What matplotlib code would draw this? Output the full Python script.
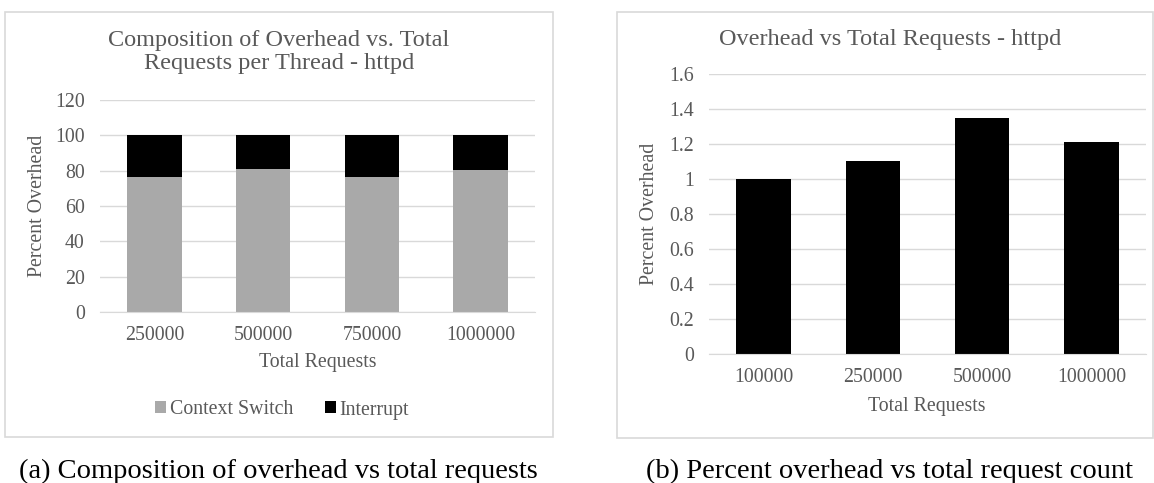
import numpy as np
import matplotlib.pyplot as plt
from matplotlib.patches import Rectangle

# data
comp_labels = ['250000', '500000', '750000', '1000000']
context_switch = [76.5, 81.1, 76.5, 80.1]
interrupt = [100 - v for v in context_switch]

total_labels = ['100000', '250000', '500000', '1000000']
pct_overhead = [1.0, 1.1, 1.349, 1.214]

W, H = 1154, 483
plt.rcParams['font.family'] = ['Liberation Serif', 'DejaVu Serif']
txt = '#595959'
grid = '#d9d9d9'

fig = plt.figure(figsize=(W / 100, H / 100), dpi=100)


def fx(x):
    return x / W


def fy(y):
    return 1 - y / H


def style(ax, ticks):
    ax.set_yticks(ticks)
    ax.grid(axis='y', color=grid, linewidth=1)
    ax.set_axisbelow(True)
    for s in ['top', 'right', 'left']:
        ax.spines[s].set_visible(False)
    ax.spines['bottom'].set_color(grid)
    ax.tick_params(axis='both', length=0, labelsize=14.3, colors=txt)
    ax.tick_params(axis='y', pad=11)
    ax.tick_params(axis='x', pad=10)


# panel borders
fig.patches.append(Rectangle((fx(5), fy(437)), fx(548), 425 / H, transform=fig.transFigure,
                             fill=False, edgecolor=grid, linewidth=1.2))
fig.patches.append(Rectangle((fx(617), fy(438)), fx(536), 426 / H, transform=fig.transFigure,
                             fill=False, edgecolor=grid, linewidth=1.2))

# (a) stacked composition
ax1 = fig.add_axes([fx(100), fy(312), fx(435), 212 / H])
x1 = np.arange(len(comp_labels))
ax1.bar(x1, context_switch, width=0.5, color='#a9a9a9', label='Context Switch')
ax1.bar(x1, interrupt, width=0.5, bottom=context_switch, color='black', label='Interrupt')
ax1.set_xlim(-0.5, 3.5)
ax1.set_ylim(0, 120)
ax1.set_xticks(x1)
ax1.set_xticklabels(comp_labels)
style(ax1, np.arange(0, 121, 20))
fig.text(fx(279), fy(52), 'Composition of Overhead vs. Total\nRequests per Thread - httpd',
         ha='center', va='center', fontsize=17.5, color=txt, linespacing=1.18)
fig.text(fx(38), fy(206), 'Percent Overhead', rotation=90, ha='center', va='center',
         fontsize=14.3, color=txt)
fig.text(fx(318), fy(362), 'Total Requests', ha='center', va='center', fontsize=14.3, color=txt)
fig.legend(*ax1.get_legend_handles_labels(), loc='center', bbox_to_anchor=(fx(282), fy(410)),
           ncol=2, frameon=False, fontsize=14.3, labelcolor=txt, handlelength=0.55,
           handleheight=0.55, handletextpad=0.2, columnspacing=1.6)

# (b) percent overhead
ax2 = fig.add_axes([fx(709), fy(354), fx(437), 280 / H])
x2 = np.arange(len(total_labels))
ax2.bar(x2, pct_overhead, width=0.5, color='black')
ax2.set_xlim(-0.5, 3.5)
ax2.set_ylim(0, 1.6)
ax2.set_xticks(x2)
ax2.set_xticklabels(total_labels)
style(ax2, [0, 0.2, 0.4, 0.6, 0.8, 1, 1.2, 1.4, 1.6])
ax2.set_yticklabels(['0', '0.2', '0.4', '0.6', '0.8', '1', '1.2', '1.4', '1.6'])
fig.text(fx(890), fy(40), 'Overhead vs Total Requests - httpd', ha='center', va='center',
         fontsize=17.5, color=txt)
fig.text(fx(649), fy(214), 'Percent Overhead', rotation=90, ha='center', va='center',
         fontsize=14.3, color=txt)
fig.text(fx(927), fy(406), 'Total Requests', ha='center', va='center', fontsize=14.3, color=txt)

# captions
fig.text(fx(278), fy(478), '(a) Composition of overhead vs total requests', ha='center',
         va='baseline', fontsize=20.5, color='black')
fig.text(fx(890), fy(478), '(b) Percent overhead vs total request count', ha='center',
         va='baseline', fontsize=20.5, color='black')

fig.savefig('out.png', dpi=100)
